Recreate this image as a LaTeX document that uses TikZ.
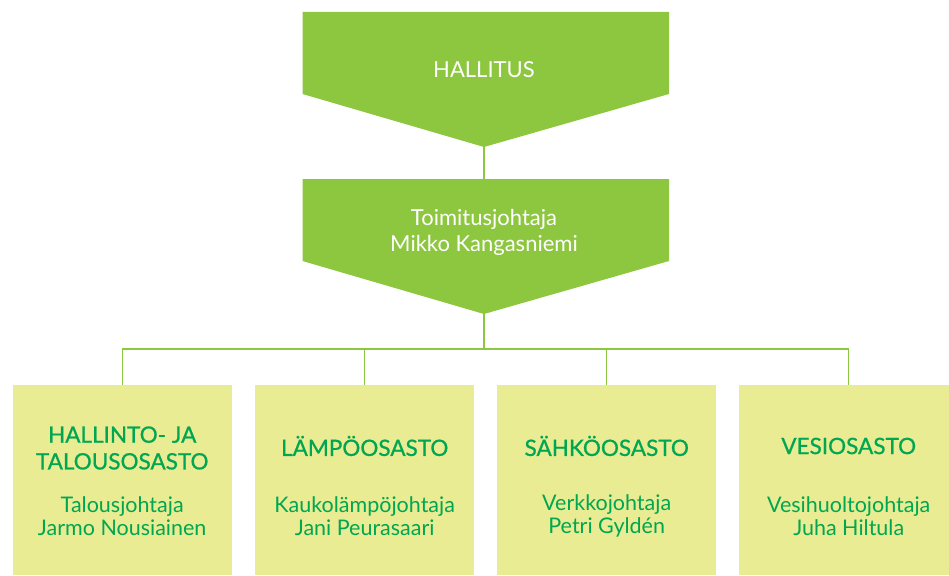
\documentclass[tikz,border=0pt]{standalone}
\usepackage{fontspec}
\setmainfont{Lato}
\newfontfamily\headfont{Lato}[FakeBold=0.8]
\definecolor{hgreen}{HTML}{8DC63F}
\definecolor{boxfill}{HTML}{E9EC92}
\definecolor{tgreen}{HTML}{00A651}
\begin{document}
\begin{tikzpicture}[x=1pt,y=-1pt,
  conn/.style={draw=hgreen, line width=1.1pt},
  dept/.style={fill=boxfill, draw=none, anchor=north west, minimum width=219pt, minimum height=190pt, inner sep=0pt},
  toptext/.style={text=white, font=\fontsize{22}{26}\selectfont, align=center},
  headtext/.style={text=tgreen, font=\headfont\fontsize{22.5}{26.7}\selectfont, align=center},
  nametext/.style={text=tgreen, font=\fontsize{21.5}{22.5}\selectfont, align=center}]
\useasboundingbox (0,0) rectangle (949,575);
% top shapes
\fill[hgreen] (302.5,12) -- (669,12) -- (669,94) -- (484,147) -- (302.5,94) -- cycle;
\fill[hgreen] (302.5,179) -- (669,179) -- (669,261) -- (484,314) -- (302.5,261) -- cycle;
\coordinate (t1) at (484,147);
\coordinate (t2top) at (484,179);
\coordinate (t2) at (484,314);
\coordinate (bus) at (484,349);
\node[toptext] (hallitus) at (484,70) {HALLITUS};
\node[toptext] (tj) at (484,232) {Toimitusjohtaja\\Mikko Kangasniemi};
% boxes
\node[dept] (b1) at (12.5,385) {};
\node[dept] (b2) at (255,385) {};
\node[dept] (b3) at (497,385) {};
\node[dept] (b4) at (739,385) {};
% connectors
\draw[conn] (t1) -- (t2top);
\draw[conn] (t2) -- (bus);
\draw[conn] (b1.north) -- (b1.north |- bus) -- (b4.north |- bus) -- (b4.north);
\draw[conn] (b2.north) -- (b2.north |- bus);
\draw[conn] (b3.north) -- (b3.north |- bus);
% texts
\node[headtext] (h1) at (b1.north |- 0,448) {HALLINTO- JA\\TALOUSOSASTO};
\node[nametext] (n1) at (b1.north |- 0,516) {Talousjohtaja\\Jarmo Nousiainen};
\node[headtext] (h2) at (b2.north |- 0,446) {LÄMPÖOSASTO};
\node[nametext] (n2) at (b2.north |- 0,516) {Kaukolämpöjohtaja\\Jani Peurasaari};
\node[headtext] (h3) at (b3.north |- 0,446) {SÄHKÖOSASTO};
\node[nametext] (n3) at (b3.north |- 0,516) {Verkkojohtaja\\Petri Gyldén};
\node[headtext] (h4) at (b4.north |- 0,446) {VESIOSASTO};
\node[nametext] (n4) at (b4.north |- 0,516) {Vesihuoltojohtaja\\Juha Hiltula};
\end{tikzpicture}
\end{document}
